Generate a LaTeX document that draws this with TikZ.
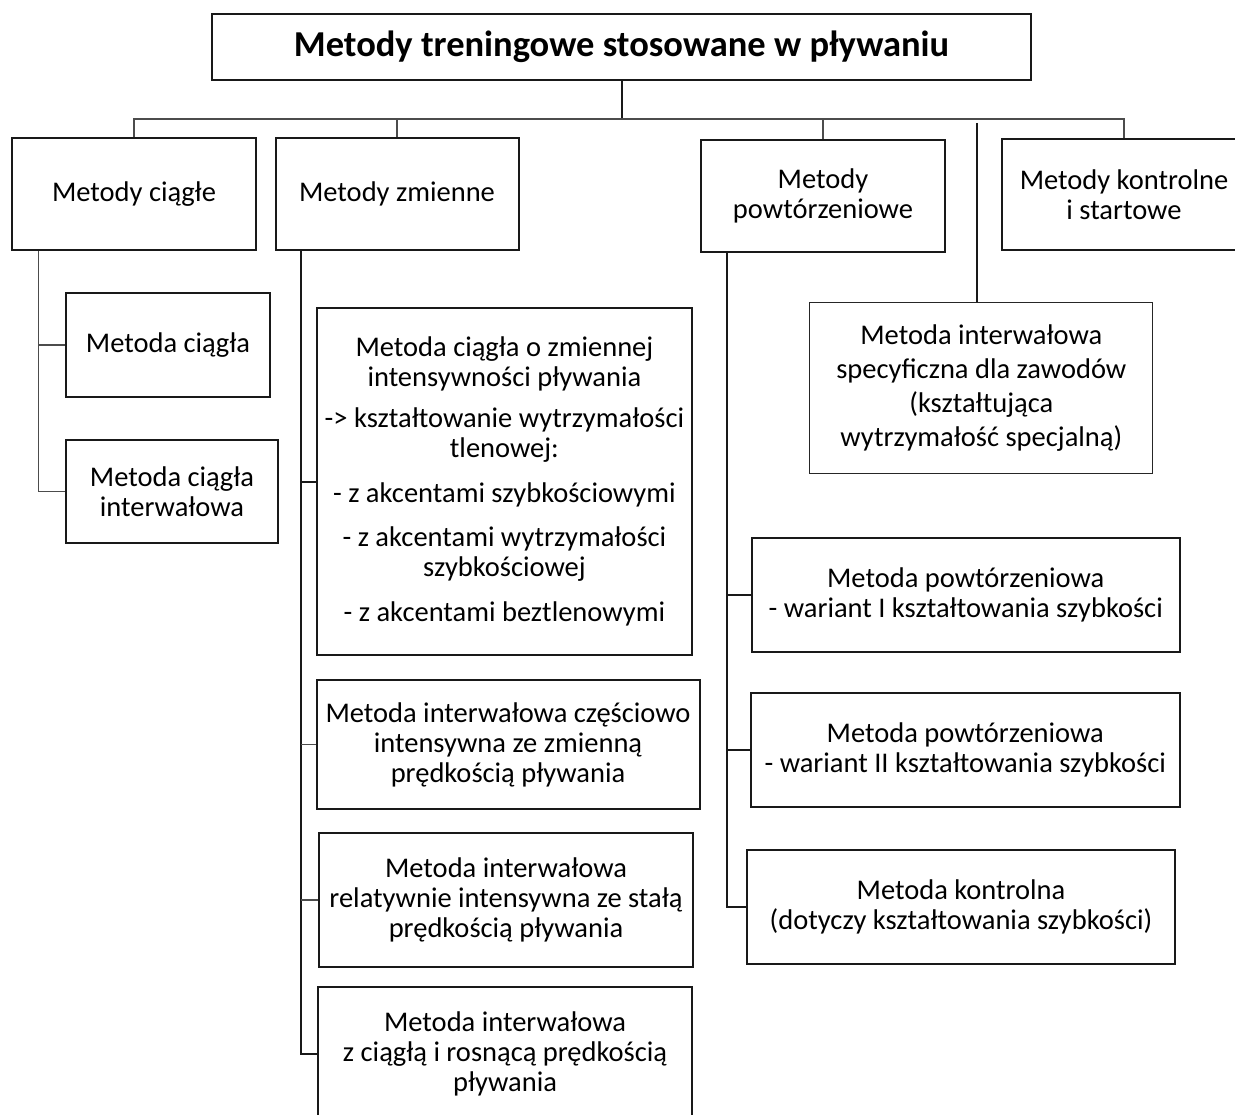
\documentclass[tikz,border=0pt]{standalone}
\usepackage{fontspec}
\setmainfont{Carlito}
\begin{document}
\begin{tikzpicture}[x=1pt,y=-1pt,
  box/.style={draw=black!90, line width=2pt, inner sep=0pt, align=center, font=\fontsize{28.5}{30}\selectfont},
  thinbox/.style={box, draw=black!85, line width=1pt, font=\fontsize{28.5}{34}\selectfont},
  conn/.style={draw=black!70, line width=1.3pt},
  trunk/.style={draw=black!90, line width=2pt}]
\useasboundingbox (0,0) rectangle (1235,1115);

% title
\node[box, minimum width=819, minimum height=66, font=\fontsize{36.5}{42}\selectfont\bfseries] (title) at (621.5,47) {Metody treningowe stosowane w pływaniu};

% level 1
\node[box, minimum width=244, minimum height=112] (c1) at (134,194) {Metody ciągłe};
\node[box, minimum width=243, minimum height=112] (c2) at (397,194) {Metody zmienne};
\node[box, minimum width=244, minimum height=112] (c3) at (823,196) {Metody\\powtórzeniowe};
\node[box, minimum width=244, minimum height=111] (c4) at (1124,194.5) {Metody kontrolne\\i startowe};

% left column
\node[box, minimum width=204, minimum height=104] (a1) at (168,345) {Metoda ciągła};
\node[box, minimum width=212, minimum height=103] (a2) at (172,491.5) {Metoda ciągła\\interwałowa};

% middle column
\node[box, minimum width=375, minimum height=347] (b1) at (504.4,481.5) {Metoda ciągła o zmiennej\\intensywności pływania\\[11pt]-> kształtowanie wytrzymałości\\tlenowej:\\[15pt]- z akcentami szybkościowymi\\[14pt]- z akcentami wytrzymałości\\szybkościowej\\[15pt]- z akcentami beztlenowymi};
\node[box, minimum width=383, minimum height=129] (b2) at (508,744.5) {Metoda interwałowa częściowo\\intensywna ze zmienną\\prędkością pływania};
\node[box, minimum width=374, minimum height=134] (b3) at (506,900) {Metoda interwałowa\\relatywnie intensywna ze stałą\\prędkością pływania};
\node[box, minimum width=374, minimum height=134] (b4) at (505,1054) {Metoda interwałowa\\z ciągłą i rosnącą prędkością\\pływania};

% right column
\node[thinbox, minimum width=343, minimum height=170] (s1) at (981.3,388) {Metoda interwałowa\\specyficzna dla zawodów\\(kształtująca\\wytrzymałość specjalną)};
\node[box, minimum width=428.5, minimum height=114] (d1) at (965.75,595) {Metoda powtórzeniowa\\- wariant I kształtowania szybkości};
\node[box, minimum width=428.5, minimum height=114] (d2) at (965.25,750) {Metoda powtórzeniowa\\- wariant II kształtowania szybkości};
\node[box, minimum width=428, minimum height=114] (d3) at (961,907) {Metoda kontrolna\\(dotyczy kształtowania szybkości)};

% connectors: top bus
\coordinate (bus) at (0,119);
\draw[trunk] (title.south) -- (title.south |- bus);
\draw[conn] (c1.north) -- (c1.north |- bus) -- (c4.north |- bus) -- (c4.north);
\draw[conn] (c2.north |- bus) -- (c2.north);
\draw[conn] (c3.north |- bus) -- (c3.north);
\coordinate (sTop) at (976.7,123);
\draw[trunk, line width=1.6pt] (sTop) -- (sTop |- s1.north);

% left branch
\coordinate (lx) at (38.4,0);
\draw[conn] (c1.south -| lx) -- (lx |- a2.west) -- (a2.west);
\draw[conn] (lx |- a1.west) -- (a1.west);

% middle branch
\coordinate (mx) at (300.6,0);
\draw[trunk] (c2.south -| mx) -- (mx |- b4.west) -- (b4.west);
\draw[trunk] (mx |- b1.west) -- (b1.west);
\draw[conn] (mx |- b2.west) -- (b2.west);
\draw[conn] (mx |- b3.west) -- (b3.west);

% right branch
\coordinate (rx) at (726.7,0);
\draw[trunk] (c3.south -| rx) -- (rx |- d3.west) -- (d3.west);
\draw[trunk] (rx |- d1.west) -- (d1.west);
\draw[trunk] (rx |- d2.west) -- (d2.west);
\end{tikzpicture}
\end{document}
